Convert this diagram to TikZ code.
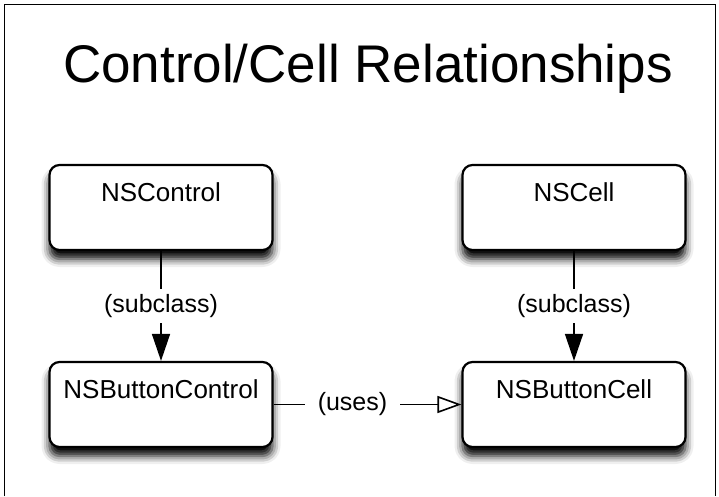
\documentclass[tikz,border=0pt]{standalone}
\usepackage{fontspec}
\setmainfont{Liberation Sans}
\usetikzlibrary{arrows.meta,shadows.blur}
\tikzset{
  classbox/.style={draw,line width=2.2pt,rounded corners=10pt,fill=white,
    minimum width=223pt,inner sep=0pt,text height=36pt,text depth=49pt,
    font=\fontsize{26}{30}\selectfont,
    blur shadow={shadow xshift=0pt,shadow yshift=-9pt,shadow blur radius=8pt,shadow opacity=100}},
  rel/.style={line width=1.6pt},
  rellabel/.style={fill=white,font=\fontsize{25}{30}\selectfont,inner ysep=5pt}
}
\begin{document}
\begin{tikzpicture}[x=1pt,y=-1pt]
\useasboundingbox (0,0) rectangle (719,496);
\draw[line width=1pt] (4,496)--(4,4)--(715,4)--(715,496);
\node[font=\fontsize{53}{60}\selectfont,anchor=base] (title) at (368,82) {Control/Cell Relationships};
\node[classbox] (control) at (161,207.5) {NSControl};
\node[classbox] (cell) at (574,207.5) {NSCell};
\node[classbox] (buttoncontrol) at (161,404.5) {NSButtonControl};
\node[classbox] (buttoncell) at (574,404.5) {NSButtonCell};
\draw[rel,-{Triangle[length=27pt,width=18pt]}] (control) -- node[rellabel] {(subclass)} (buttoncontrol);
\draw[rel,-{Triangle[length=27pt,width=18pt]}] (cell) -- node[rellabel] {(subclass)} (buttoncell);
\draw[rel,-{Triangle[open,fill=white,length=24pt,width=17pt]}] (buttoncontrol) -- node[rellabel,pos=0.42,inner xsep=13pt] {(uses)} (buttoncell);
\end{tikzpicture}
\end{document}
